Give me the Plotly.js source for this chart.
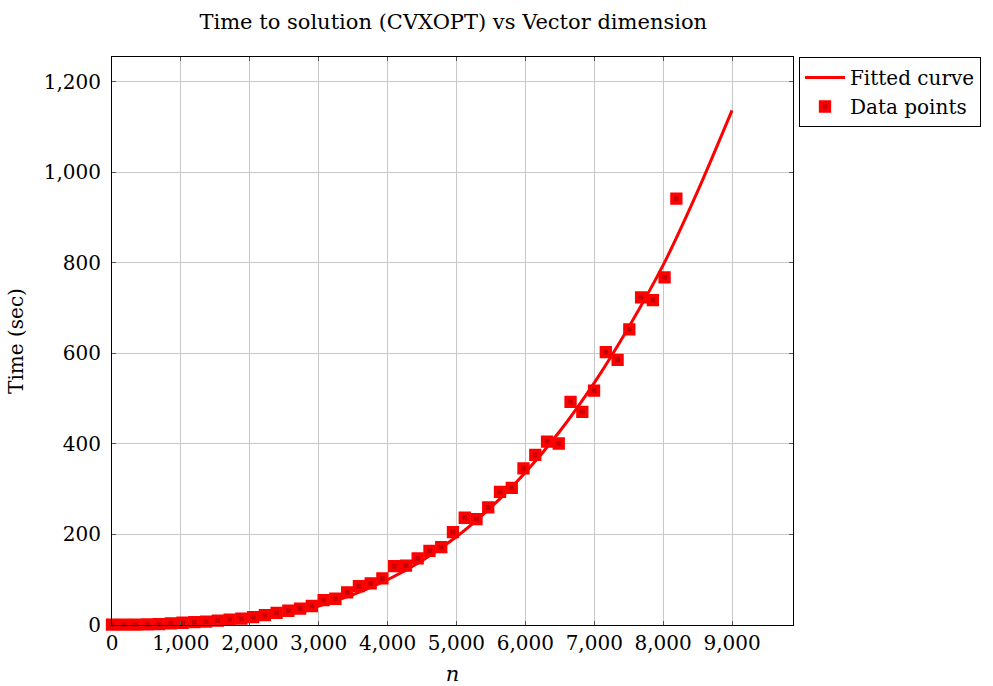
<!DOCTYPE html>
<html>
<head>
<meta charset="utf-8">
<script src="https://cdn.plot.ly/plotly-3.0.1.min.js"></script>
<style>html,body{margin:0;padding:0;background:#fff;}#chart{width:993px;height:686px;}</style>
</head>
<body>
<div id="chart"></div>
<script>
// Data points (vector dimension n, time in seconds)
var pointN = [0,171,341,512,683,853,1024,1195,1365,1536,1707,1877,2048,2219,2389,2560,2731,2901,3072,3243,3413,3584,3755,3925,4096,4267,4437,4608,4779,4949,5120,5291,5461,5632,5803,5973,6144,6315,6485,6656,6827,6997,7168,7339,7509,7680,7851,8021,8192];
var pointTime = [1,1,1,1.5,2,3.5,5,6.5,7.5,9.5,12,14,17.5,22,27,31.5,36,42,55,58,72,86,92,103,130,131,147,164,172,205,237,234,260,294,303,346,376,405,401,493,471,518,603,586,653,724,718,768,942];
// Fitted curve
var curveN = [0,500,1000,1500,2000,2500,3000,3500,4000,4500,5000,5500,6000,6500,7000,7500,8000,8500,9000];
var curveTime = [0,0.2,1.6,5.3,12.5,24.4,42,67,100,142,195,260,337,428,535,658,795,958,1137];
// Axis ticks
var xTicks = [0,1000,2000,3000,4000,5000,6000,7000,8000,9000];
var xTickText = ["0","1,000","2,000","3,000","4,000","5,000","6,000","7,000","8,000","9,000"];
var yTicks = [0,200,400,600,800,1000,1200];
var yTickText = ["0","200","400","600","800","1,000","1,200"];

var font = "DejaVu Serif, Liberation Serif, serif";

var traces = [
  {
    x: curveN, y: curveTime, type: "scatter", mode: "lines",
    name: "Fitted curve",
    line: {color: "#ff0000", width: 3, shape: "spline", smoothing: 0.8},
    cliponaxis: false
  },
  {
    x: pointN, y: pointTime, type: "scatter", mode: "markers",
    name: "Data points",
    marker: {symbol: "square", size: 8.5, color: "#c80000", line: {color: "#ff0000", width: 3.8}},
    cliponaxis: false
  }
];

var layout = {
  width: 993, height: 686,
  margin: {l: 112, r: 198, t: 57, b: 61},
  paper_bgcolor: "#ffffff", plot_bgcolor: "#ffffff",
  font: {family: font, size: 20, color: "#000000"},
  title: {text: "Time to solution (CVXOPT) vs Vector dimension", font: {family: font, size: 21, color: "#000"}, x: 0.4565, xanchor: "center", y: 0.968, yanchor: "middle"},
  xaxis: {
    range: [0, 9885], tickvals: xTicks, ticktext: xTickText,
    showgrid: true, gridcolor: "#c8c8c8", gridwidth: 1,
    showline: true, linecolor: "#000", linewidth: 1, mirror: "ticks",
    ticks: "inside", ticklen: 4, tickcolor: "#555", zeroline: false,
    tickfont: {family: font, size: 20},
    title: {text: "<i>n</i>", font: {family: font, size: 21}, standoff: 12}
  },
  yaxis: {
    range: [0, 1255], tickvals: yTicks, ticktext: yTickText,
    showgrid: true, gridcolor: "#c8c8c8", gridwidth: 1,
    showline: true, linecolor: "#000", linewidth: 1, mirror: "ticks",
    ticks: "inside", ticklen: 4, tickcolor: "#555", zeroline: false,
    tickfont: {family: font, size: 20}, ticklabelstandoff: 6,
    title: {text: "Time (sec)", font: {family: font, size: 20}, standoff: 14}
  },
  legend: {
    x: 1.0088, xanchor: "left", y: 1, yanchor: "top",
    bordercolor: "#000", borderwidth: 1, bgcolor: "#fff",
    font: {family: font, size: 20}, tracegroupgap: 0, itemwidth: 40
  },
  showlegend: true
};

Plotly.newPlot("chart", traces, layout, {displayModeBar: false, staticPlot: true});
</script>
</body>
</html>
